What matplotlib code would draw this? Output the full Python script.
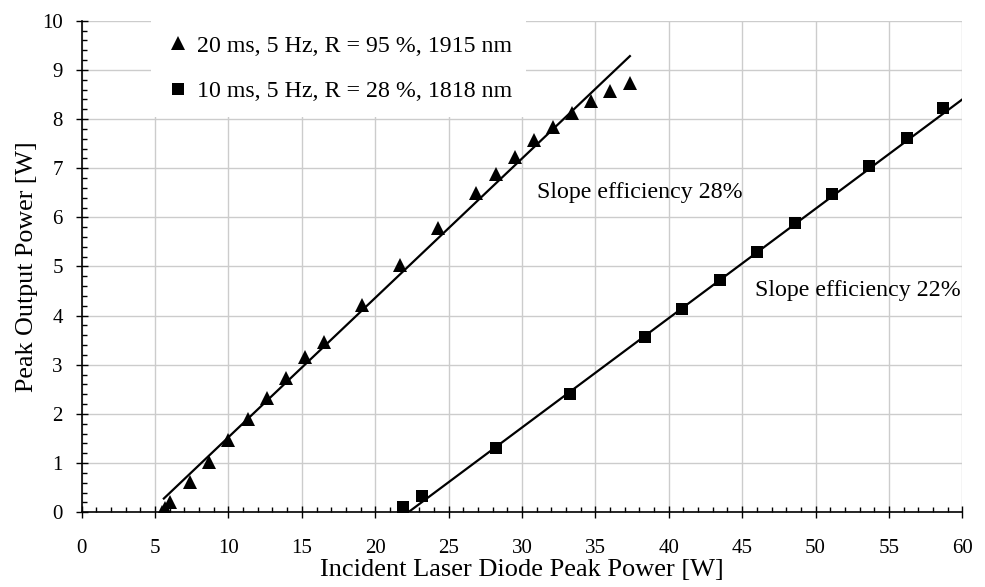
import numpy as np
import matplotlib
matplotlib.use("Agg")
import matplotlib.pyplot as plt
from matplotlib.ticker import MultipleLocator

plt.rcParams['font.family'] = ['Liberation Serif', 'DejaVu Serif']

# measured points, 20 ms / 5 Hz / R=95% (1915 nm)
x_tri = [5.5, 5.7, 6.0, 7.4, 8.7, 10.0, 11.3, 12.6, 13.9, 15.2, 16.5, 19.1, 21.7,
         24.3, 26.9, 28.2, 29.5, 30.8, 32.1, 33.4, 34.7, 36.0, 37.35]
y_tri = [0.0, 0.08, 0.2, 0.62, 1.03, 1.47, 1.89, 2.33, 2.74, 3.15, 3.47, 4.22, 5.03,
         5.78, 6.50, 6.88, 7.22, 7.57, 7.84, 8.12, 8.37, 8.57, 8.74]

# measured points, 10 ms / 5 Hz / R=28% (1818 nm)
x_sq = [21.9, 23.2, 28.2, 33.3, 38.4, 40.9, 43.5, 46.0, 48.6, 51.1, 53.65, 56.2, 58.7]
y_sq = [0.10, 0.33, 1.30, 2.40, 3.56, 4.14, 4.73, 5.30, 5.88, 6.47, 7.04, 7.61, 8.22]

# linear fits (end points)
fit_tri_x = [5.6, 37.35]
fit_tri_y = [0.28, 9.28]
fit_sq_x = [22.25, 60.0]
fit_sq_y = [0.0, 8.40]

label_tri = "20 ms, 5 Hz, R = 95 %, 1915 nm"
label_sq = "10 ms, 5 Hz, R = 28 %, 1818 nm"

fig = plt.figure(figsize=(9.85, 5.87), dpi=100)
ax = fig.add_axes([0.0829, 0.1273, 0.977 - 0.0829, 0.9647 - 0.1273])

ax.plot(fit_tri_x, fit_tri_y, color='black', lw=1.6, zorder=3)
ax.plot(fit_sq_x, fit_sq_y, color='black', lw=1.6, zorder=3)
h1, = ax.plot(x_tri, y_tri, ls='none', marker='^', ms=9.5, color='black', mew=0, zorder=4)
h2, = ax.plot(x_sq, y_sq, ls='none', marker='s', ms=8, color='black', mew=0, zorder=4)

ax.set_xlim(0, 60)
ax.set_ylim(0, 10)
ax.xaxis.set_major_locator(MultipleLocator(5))
ax.xaxis.set_minor_locator(MultipleLocator(1))
ax.yaxis.set_major_locator(MultipleLocator(1))
ax.yaxis.set_minor_locator(MultipleLocator(0.2))

ax.grid(True, which='major', color='#cccccc', lw=1.0)
ax.set_axisbelow(True)
for s in ['top', 'right']:
    ax.spines[s].set_visible(False)
for s in ['left', 'bottom']:
    ax.spines[s].set_linewidth(1.2)

ax.tick_params(which='major', direction='inout', length=8, width=1.0, labelsize=15)
ax.tick_params(which='minor', direction='in', length=3.6, width=1.0)
ax.tick_params(axis='x', which='major', pad=15)
ax.tick_params(axis='y', which='major', pad=9.5)

ax.set_xlabel("Incident Laser Diode Peak Power [W]", fontsize=19, labelpad=1)
ax.set_ylabel("Peak Output Power [W]", fontsize=18.7, labelpad=3)

ax.text(31.0, 6.5, "Slope efficiency 28%", fontsize=17.2, va='center', ha='left')
ax.text(45.9, 4.52, "Slope efficiency 22%", fontsize=17.2, va='center', ha='left')

leg = ax.legend([h1, h2], [label_tri, label_sq], loc='upper left',
                bbox_to_anchor=(0.079, 1.0), fontsize=17.2, frameon=True,
                fancybox=False, edgecolor='none', facecolor='white', framealpha=1,
                handlelength=1.0, handletextpad=0.3, labelspacing=1.0,
                borderpad=0.6, borderaxespad=0)

fig.savefig("out.png", dpi=100)
